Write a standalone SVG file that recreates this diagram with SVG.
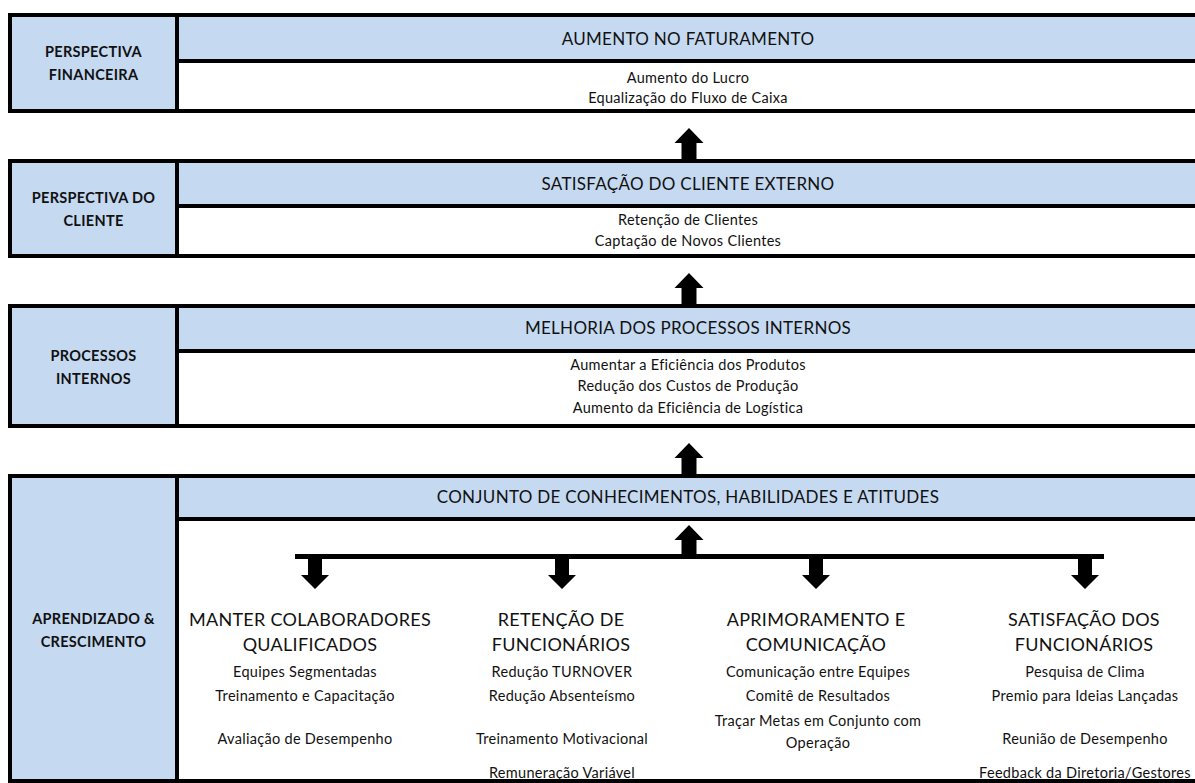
<svg xmlns="http://www.w3.org/2000/svg" width="1195" height="783" viewBox="0 0 1195 783">
  <style>
    .blue { fill: #C5D9F1; }
    .white { fill: #FFFFFF; }
    .rule { fill: #000000; }
    .lbl { font-family: Lato, "Liberation Sans", sans-serif; font-weight: bold; font-size: 14.5px; letter-spacing: 0.3px; fill: #111; text-anchor: middle; }
    .hdr { font-family: Lato, "Liberation Sans", sans-serif; font-size: 17px; letter-spacing: 0.3px; fill: #111; text-anchor: middle; }
    .txt { font-family: Lato, "Liberation Sans", sans-serif; font-size: 14.5px; letter-spacing: 0.3px; fill: #111; text-anchor: middle; }
    .ttl { font-family: Lato, "Liberation Sans", sans-serif; font-size: 18px; letter-spacing: 0.3px; fill: #111; text-anchor: middle; }
  </style>
  <defs>
    <!-- block arrow pointing up, tip at origin -->
    <path id="arrowUp" d="M0,0 L14.5,15 L7.5,15 L7.5,31 L-7.5,31 L-7.5,15 L-14.5,15 Z" fill="#000"/>
    <!-- block arrow pointing down, tip at origin -->
    <path id="arrowDown" d="M0,0 L14,-14 L7,-14 L7,-31 L-7,-31 L-7,-14 L-14,-14 Z" fill="#000"/>
  </defs>
  <rect width="1195" height="783" fill="#FFFFFF"/>

  <!-- Financial perspective -->
  <g id="financeira">
    <rect class="blue" x="8" y="13" width="1187" height="48"/>
    <rect class="blue" x="8" y="13" width="169" height="100"/>
    <rect class="white" x="179" y="61" width="1016" height="50"/>
    <rect class="rule" x="8" y="13" width="1187" height="4"/>
    <rect class="rule" x="179" y="59" width="1016" height="4"/>
    <rect class="rule" x="8" y="109" width="1187" height="4"/>
    <rect class="rule" x="8" y="13" width="4" height="100"/>
    <rect class="rule" x="175" y="13" width="4" height="100"/>
    <text class="lbl" x="93.5" y="57">PERSPECTIVA</text>
    <text class="lbl" x="93.5" y="80">FINANCEIRA</text>
    <text class="hdr" x="688" y="45">AUMENTO NO FATURAMENTO</text>
    <text class="txt" x="688" y="83">Aumento do Lucro</text>
    <text class="txt" x="688" y="103">Equalização do Fluxo de Caixa</text>
  </g>

  <!-- Customer perspective -->
  <g id="cliente">
    <rect class="blue" x="8" y="159" width="1187" height="47"/>
    <rect class="blue" x="8" y="159" width="169" height="99"/>
    <rect class="white" x="179" y="206" width="1016" height="50"/>
    <rect class="rule" x="8" y="159" width="1187" height="4"/>
    <rect class="rule" x="179" y="204" width="1016" height="4"/>
    <rect class="rule" x="8" y="254" width="1187" height="4"/>
    <rect class="rule" x="8" y="159" width="4" height="99"/>
    <rect class="rule" x="175" y="159" width="4" height="99"/>
    <text class="lbl" x="93.5" y="203">PERSPECTIVA DO</text>
    <text class="lbl" x="93.5" y="226">CLIENTE</text>
    <text class="hdr" x="688" y="190">SATISFAÇÃO DO CLIENTE EXTERNO</text>
    <text class="txt" x="688" y="225">Retenção de Clientes</text>
    <text class="txt" x="688" y="246">Captação de Novos Clientes</text>
  </g>

  <!-- Internal processes -->
  <g id="processos">
    <rect class="blue" x="8" y="304" width="1187" height="47"/>
    <rect class="blue" x="8" y="304" width="169" height="124"/>
    <rect class="white" x="179" y="351" width="1016" height="75"/>
    <rect class="rule" x="8" y="304" width="1187" height="4"/>
    <rect class="rule" x="179" y="349" width="1016" height="4"/>
    <rect class="rule" x="8" y="424" width="1187" height="4"/>
    <rect class="rule" x="8" y="304" width="4" height="124"/>
    <rect class="rule" x="175" y="304" width="4" height="124"/>
    <text class="lbl" x="93.5" y="361">PROCESSOS</text>
    <text class="lbl" x="93.5" y="384">INTERNOS</text>
    <text class="hdr" x="688" y="334">MELHORIA DOS PROCESSOS INTERNOS</text>
    <text class="txt" x="688" y="370">Aumentar a Eficiência dos Produtos</text>
    <text class="txt" x="688" y="391">Redução dos Custos de Produção</text>
    <text class="txt" x="688" y="413">Aumento da Eficiência de Logística</text>
  </g>

  <!-- Learning and growth -->
  <g id="aprendizado">
    <rect class="blue" x="8" y="474" width="1187" height="45"/>
    <rect class="blue" x="8" y="474" width="169" height="309"/>
    <rect class="rule" x="8" y="474" width="1187" height="4"/>
    <rect class="rule" x="179" y="517" width="1016" height="4"/>
    <rect class="rule" x="8" y="779" width="1187" height="4"/>
    <rect class="rule" x="8" y="474" width="4" height="309"/>
    <rect class="rule" x="175" y="474" width="4" height="309"/>
    <text class="lbl" x="93.5" y="624">APRENDIZADO &amp;</text>
    <text class="lbl" x="93.5" y="647">CRESCIMENTO</text>
    <text class="hdr" x="688" y="503">CONJUNTO DE CONHECIMENTOS, HABILIDADES E ATITUDES</text>
  </g>

  <g id="qualificados">
    <text class="ttl" x="310" y="626">MANTER COLABORADORES</text>
    <text class="ttl" x="310" y="651">QUALIFICADOS</text>
    <text class="txt" x="305" y="677">Equipes Segmentadas</text>
    <text class="txt" x="305" y="701">Treinamento e Capacitação</text>
    <text class="txt" x="305" y="744">Avaliação de Desempenho</text>
  </g>

  <g id="retencao">
    <text class="ttl" x="561" y="626">RETENÇÃO DE</text>
    <text class="ttl" x="561" y="651">FUNCIONÁRIOS</text>
    <text class="txt" x="562" y="677">Redução TURNOVER</text>
    <text class="txt" x="562" y="701">Redução Absenteísmo</text>
    <text class="txt" x="562" y="744">Treinamento Motivacional</text>
    <text class="txt" x="562" y="778">Remuneração Variável</text>
  </g>

  <g id="comunicacao">
    <text class="ttl" x="816" y="626">APRIMORAMENTO E</text>
    <text class="ttl" x="816" y="651">COMUNICAÇÃO</text>
    <text class="txt" x="818" y="677">Comunicação entre Equipes</text>
    <text class="txt" x="818" y="701">Comitê de Resultados</text>
    <text class="txt" x="818" y="726">Traçar Metas em Conjunto com</text>
    <text class="txt" x="818" y="748">Operação</text>
  </g>

  <g id="satisfacao">
    <text class="ttl" x="1084" y="626">SATISFAÇÃO DOS</text>
    <text class="ttl" x="1084" y="651">FUNCIONÁRIOS</text>
    <text class="txt" x="1085" y="677">Pesquisa de Clima</text>
    <text class="txt" x="1085" y="701">Premio para Ideias Lançadas</text>
    <text class="txt" x="1085" y="744">Reunião de Desempenho</text>
    <text class="txt" x="1085" y="778">Feedback da Diretoria/Gestores</text>
  </g>

  <!-- connectors -->
  <g id="connectors">
    <use href="#arrowUp" x="689" y="128"/>
    <use href="#arrowUp" x="689" y="273"/>
    <use href="#arrowUp" x="689" y="443"/>
    <use href="#arrowUp" x="689" y="525"/>
    <rect class="rule" x="295" y="554" width="809" height="5"/>
    <use href="#arrowDown" x="315" y="589"/>
    <use href="#arrowDown" x="562" y="589"/>
    <use href="#arrowDown" x="816" y="589"/>
    <use href="#arrowDown" x="1085" y="589"/>
  </g>
</svg>
